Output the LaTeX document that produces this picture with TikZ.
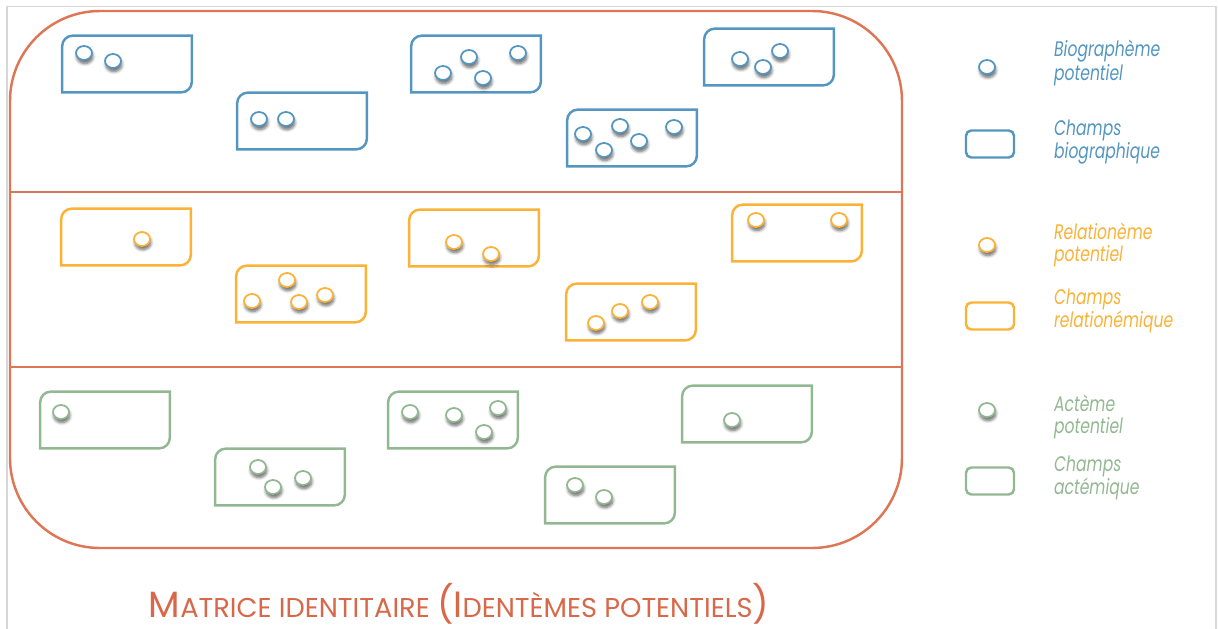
\documentclass[tikz,border=0pt]{standalone}
\usepackage{fontspec}
\usepackage{tikz}
\usetikzlibrary{positioning,shapes.geometric,shadows.blur,calc}
\newfontfamily\futura{Poppins}
\newfontfamily\futuraleg[FakeStretch=0.74]{Poppins}
\definecolor{bleu}{RGB}{84,150,192}
\definecolor{jaune}{RGB}{250,178,55}
\definecolor{vert}{RGB}{146,184,146}
\definecolor{brique}{RGB}{222,118,86}
\definecolor{titre}{RGB}{216,104,74}
\definecolor{cadre}{RGB}{215,215,215}

\tikzset{
  pastille/.style={ellipse,draw=#1,fill=white,line width=1pt,inner sep=0pt,
    minimum width=0.32cm,minimum height=0.28cm,
    blur shadow={shadow xshift=0.5pt,shadow yshift=-2pt,shadow blur steps=6,shadow opacity=60}},
  champ/.style={rectangle,inner sep=0pt,minimum width=2.58cm,minimum height=1.12cm},
  bord/.style={draw=#1,line width=1.4pt},
  legende/.style={anchor=west,align=left,inner sep=1pt,text=#1,font=\futuraleg\itshape\fontsize{12}{12}\selectfont}
}
% champ a coins arrondis en diagonale
\newcommand\champ[2]{%
  \draw[bord=#2] (#1.south west) -- ([yshift=-6pt]#1.north west)
    arc[start angle=180,end angle=90,radius=6pt] -- (#1.north east)
    -- ([yshift=6pt]#1.south east)
    arc[start angle=0,end angle=-90,radius=6pt] -- cycle;}
\newcommand\grand{\fontsize{20.8}{20.8}\selectfont}
\newcommand\petit{\fontsize{15.5}{15.5}\selectfont}

\begin{document}
\begin{tikzpicture}[x=0.02cm,y=-0.02cm]
  \useasboundingbox (0,0) rectangle (1218,629);
  \draw[cadre,line width=1.1pt] (7,629) -- (7,6.5) -- (1216,6.5) -- (1216,629);

  % matrice
  \draw[brique,line width=1.4pt,rounded corners=1.8cm] (10,11) rectangle (902,548);
  \coordinate (sepA) at (10,192);
  \coordinate (sepB) at (10,367);
  \draw[brique,line width=1pt] (sepA) -- ++(892,0);
  \draw[brique,line width=1pt] (sepB) -- ++(892,0);

  % champs biographiques
  \foreach \n/\x/\y in {1/127/64,2/302/121,3/476/64,4/632/138,5/769/57}{
    \node[champ] (cb\n) at (\x,\y) {};
    \champ{cb\n}{bleu}
  }
  \foreach \x/\y [count=\i] in {84/53,113/61,259/119,286/119,443/73,469/57,483/78,518/53,
      583/134,620/126,604/150,639/141,674/127,740/59,763/67,780/51}
    \node[pastille=bleu] (b\i) at (\x,\y) {};

  % champs relationemiques
  \foreach \n/\x/\y in {1/126/237,2/301/294,3/474/238,4/631/312,5/797/233}{
    \node[champ] (cr\n) at (\x,\y) {};
    \champ{cr\n}{jaune}
  }
  \foreach \x/\y [count=\i] in {142/239,287/280,252/301,299/302,325/295,454/242,491/254,
      596/323,620/311,650/302,756/220,839/220}
    \node[pastille=jaune] (r\i) at (\x,\y) {};

  % champs actemiques
  \foreach \n/\x/\y in {1/105/420,2/280/477,3/453/420,4/610/495,5/747/414}{
    \node[champ] (ca\n) at (\x,\y) {};
    \champ{ca\n}{vert}
  }
  \foreach \x/\y [count=\i] in {61/412,258/467,273/487,303/478,410/412,454/415,498/408,
      484/432,575/485,604/497,732/420}
    \node[pastille=vert] (a\i) at (\x,\y) {};

  % legende
  \node[pastille=bleu] (lb) at (987,67) {};
  \node[legende=bleu] (tb) at (1052,63) {Biographème\\potentiel};
  \node[draw=bleu,line width=1.4pt,rounded corners=3pt,minimum width=0.96cm,minimum height=0.54cm] (lcb) at (990,144) {};
  \node[legende=bleu] (tcb) at (1052,142) {Champs\\biographique};
  \node[pastille=jaune] (lr) at (987,245) {};
  \node[legende=jaune] (tr) at (1052,245) {Relationème\\potentiel};
  \node[draw=jaune,line width=1.4pt,rounded corners=3pt,minimum width=0.96cm,minimum height=0.54cm] (lcr) at (990,316) {};
  \node[legende=jaune] (tcr) at (1052,311) {Champs\\relationémique};
  \node[pastille=vert] (la) at (987,410) {};
  \node[legende=vert] (ta) at (1052,417) {Actème\\potentiel};
  \node[draw=vert,line width=1.4pt,rounded corners=3pt,minimum width=0.96cm,minimum height=0.54cm] (lca) at (990,481) {};
  \node[legende=vert] (tca) at (1052,478) {Champs\\actémique};

  % titre
  \node[text=titre,font=\futura] (titre) at (459,604)
    {\grand M\petit ATRICE IDENTITAIRE \grand(I\petit DENTÈMES POTENTIELS\grand)};
\end{tikzpicture}
\end{document}
